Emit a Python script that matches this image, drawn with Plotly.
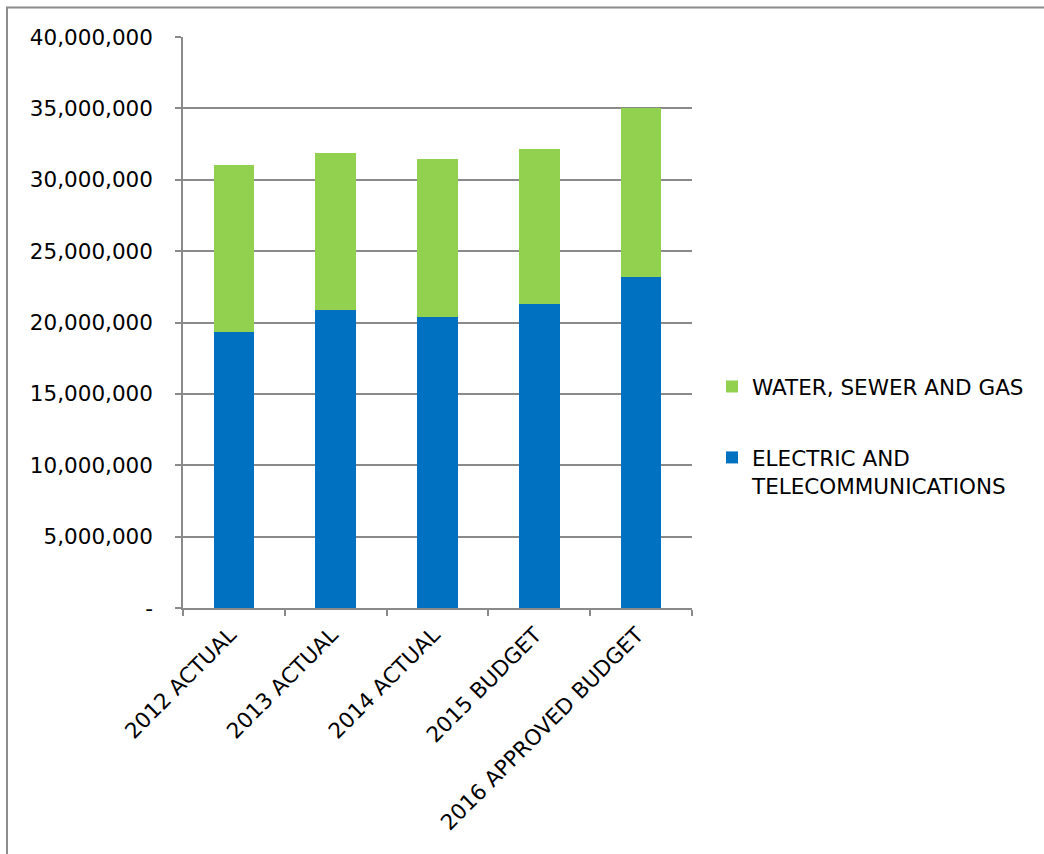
import plotly.graph_objects as go

categories = ["2012 ACTUAL", "2013 ACTUAL", "2014 ACTUAL", "2015 BUDGET", "2016 APPROVED BUDGET"]
electric_telecom = [19350000, 20880000, 20420000, 21330000, 23220000]
water_sewer_gas = [11650000, 10970000, 11000000, 10820000, 11840000]

y_tick_vals = [0, 5000000, 10000000, 15000000, 20000000, 25000000, 30000000, 35000000, 40000000]
y_tick_text = ["-", "5,000,000", "10,000,000", "15,000,000", "20,000,000",
               "25,000,000", "30,000,000", "35,000,000", "40,000,000"]

BLUE = "#0070C0"
GREEN = "#92D050"
GRID = "#8A8A8A"
FONT = "DejaVu Sans"
FS = 21.5

fig = go.Figure()
fig.add_trace(go.Bar(
    x=categories, y=electric_telecom,
    name="ELECTRIC AND<br>TELECOMMUNICATIONS",
    marker=dict(color=BLUE, line=dict(width=0)),
    legendgroup="a", legendrank=2,
))
fig.add_trace(go.Bar(
    x=categories, y=water_sewer_gas,
    name="WATER, SEWER AND GAS",
    marker=dict(color=GREEN, line=dict(width=0)),
    legendgroup="b", legendrank=1,
))

L, R, T, B = 183, 352, 37, 246
W, H = 1044, 854
pw, ph = W - L - R, H - T - B

fig.update_layout(
    width=W, height=H,
    margin=dict(l=L, r=R, t=T, b=B),
    barmode="stack",
    bargap=0.6,
    plot_bgcolor="white",
    paper_bgcolor="white",
    font=dict(family=FONT, size=FS, color="black"),
    legend=dict(
        x=(712 - L) / pw, y=1 - (366 - T) / ph,
        xanchor="left", yanchor="top",
        traceorder="grouped",
        tracegroupgap=40,
        valign="top",
        font=dict(family=FONT, size=FS, color="black", lineposition="none"),
        bgcolor="rgba(0,0,0,0)",
    ),
    xaxis=dict(
        type="category",
        tickson="boundaries",
        ticks="outside", ticklen=6, tickcolor=GRID, tickwidth=1.5,
        showline=True, linecolor=GRID, linewidth=1.5,
        showgrid=False,
        tickangle=-45,
        ticklabelshift=-4,
        ticklabelstandoff=4,
        tickfont=dict(family=FONT, size=FS, color="black"),
    ),
    yaxis=dict(
        range=[0, 40000000],
        tickvals=y_tick_vals, ticktext=y_tick_text,
        ticks="outside", ticklen=6, tickcolor=GRID, tickwidth=1.5,
        showline=True, linecolor=GRID, linewidth=1.5,
        showgrid=True, gridcolor=GRID, gridwidth=1.5,
        zeroline=False,
        ticklabelstandoff=18,
        tickfont=dict(family=FONT, size=FS, color="black"),
    ),
    shapes=[dict(
        type="rect", xref="paper", yref="paper",
        x0=(7 - L) / pw, x1=(W + 10 - L) / pw,
        y0=-(H + 10 - (H - B)) / ph, y1=1 + (T - 7.5) / ph,
        line=dict(color="#8C8C8C", width=2),
        fillcolor="rgba(0,0,0,0)",
        layer="below",
    )],
)

fig.write_html("out.html")
